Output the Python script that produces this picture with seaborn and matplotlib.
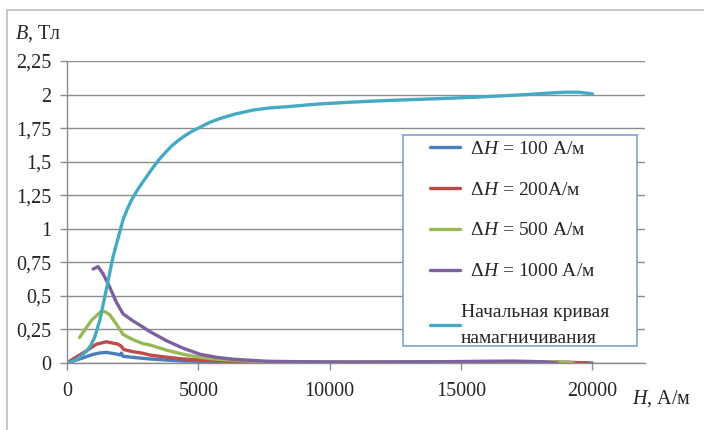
import numpy as np
import pandas as pd
import seaborn as sns
import matplotlib.pyplot as plt
from matplotlib.patches import Rectangle
from matplotlib.lines import Line2D

# data
h_init = [0, 250, 500, 750, 900, 1050, 1250, 1500, 1750, 2000, 2130, 2300, 2500, 2750,
          3000, 3250, 3500, 3750, 4000, 4250, 4500, 4750, 5000, 5400, 5800, 6400, 7100,
          7700, 8400, 9000, 9600, 10500, 11500, 12500, 13500, 14500, 15500, 16500, 17500,
          18500, 19000, 19500, 20000]
b_init = [0, 0.015, 0.045, 0.09, 0.13, 0.19, 0.32, 0.55, 0.79, 0.97, 1.066, 1.15, 1.23,
          1.31, 1.38, 1.45, 1.515, 1.57, 1.62, 1.66, 1.695, 1.725, 1.75, 1.79, 1.82, 1.855,
          1.885, 1.9, 1.91, 1.92, 1.93, 1.94, 1.95, 1.958, 1.965, 1.972, 1.98, 1.99, 2.0,
          2.013, 2.018, 2.017, 2.005]

h_100 = [0, 480, 990, 1250, 1500, 1816, 2030, 2070, 2133, 2600, 3160, 3800, 4420, 6000,
         8000, 10000, 15000, 17000, 19000, 20000]
b_100 = [0, 0.03, 0.064, 0.075, 0.079, 0.069, 0.06, 0.074, 0.05, 0.04, 0.03, 0.022, 0.015,
         0.008, 0.004, 0.003, 0.005, 0.006, 0.004, 0.0]

h_200 = [0, 230, 737, 1117, 1500, 1752, 1943, 2070, 2159, 2500, 2895, 3162, 3800, 4420,
         5500, 6500, 8000, 10000, 15000, 17000, 19000, 19850]
b_200 = [0, 0.03, 0.09, 0.14, 0.158, 0.148, 0.14, 0.124, 0.1, 0.085, 0.072, 0.059, 0.043,
         0.03, 0.018, 0.01, 0.006, 0.004, 0.006, 0.008, 0.006, 0.0]

h_500 = [480, 927, 1308, 1435, 1625, 1879, 2133, 2500, 2895, 3162, 3800, 4419, 5067, 5714,
         7000, 8000, 10000, 15000, 17000, 18500, 19280]
b_500 = [0.19, 0.317, 0.386, 0.383, 0.36, 0.29, 0.213, 0.175, 0.144, 0.134, 0.095, 0.065,
         0.042, 0.028, 0.014, 0.008, 0.006, 0.008, 0.01, 0.008, 0.0]

h_1000 = [990, 1100, 1181, 1371, 1625, 1879, 2133, 2500, 2895, 3162, 3800, 4419, 5067,
          5700, 6324, 7600, 9000, 11000, 14000, 16000, 17000, 18000, 18670]
b_1000 = [0.70, 0.71, 0.718, 0.665, 0.565, 0.453, 0.366, 0.315, 0.267, 0.233, 0.165, 0.11,
          0.065, 0.042, 0.028, 0.013, 0.009, 0.007, 0.009, 0.013, 0.014, 0.01, 0.0]

labels = ["  Δ$H$ = 100 А/м", "  Δ$H$ = 200А/м", "  Δ$H$ = 500 А/м", "  Δ$H$ = 1000 А/м",
          "Начальная кривая\nнамагничивания"]
colors = ["#4A7EBB", "#BE4B48", "#98B954", "#7D60A0", "#46AAC5"]
y_ticks = [0, 0.25, 0.5, 0.75, 1, 1.25, 1.5, 1.75, 2, 2.25]
x_ticks = [0, 5000, 10000, 15000, 20000]

series = [(h_100, b_100), (h_200, b_200), (h_500, b_500), (h_1000, b_1000), (h_init, b_init)]
frames = []
for (h, b), lab in zip(series, labels):
    frames.append(pd.DataFrame({"H": h, "B": b, "series": lab}))
df = pd.concat(frames, ignore_index=True)

sns.set_style("white")
plt.rcParams["font.family"] = "serif"
plt.rcParams["font.serif"] = ["Liberation Serif", "DejaVu Serif"]
plt.rcParams["mathtext.fontset"] = "custom"
plt.rcParams["mathtext.it"] = "Liberation Serif:italic"
plt.rcParams["mathtext.rm"] = "Liberation Serif"

fig = plt.figure(figsize=(7.04, 4.30), dpi=100)
ax = fig.add_axes([67 / 704, 1 - 363 / 430, (645 - 67) / 704, (363 - 61) / 430])

# outer chart border (top and left only visible)
fig.add_artist(Line2D([7 / 704, 7 / 704], [0, 1 - 10 / 430], color="#BFBFBF", lw=1.2,
                      transform=fig.transFigure))
fig.add_artist(Line2D([7 / 704, 1], [1 - 10 / 430, 1 - 10 / 430], color="#BFBFBF", lw=1.2,
                      transform=fig.transFigure))

sns.lineplot(data=df, x="H", y="B", hue="series", palette=colors, hue_order=labels,
             sort=False, estimator=None, lw=2.4, ax=ax, legend=False)

ax.set_xlim(0, 22000)
ax.set_ylim(0, 2.25)
ax.set_yticks(y_ticks)
ax.set_yticklabels([("%g" % v).replace(".", ",") for v in y_ticks])
ax.set_xticks(x_ticks)
ax.set_xticklabels([str(v) for v in x_ticks])
ax.grid(axis="y", color="#8C8C8C", lw=1)
ax.set_axisbelow(True)
for s in ["top", "right"]:
    ax.spines[s].set_visible(False)
for s in ["left", "bottom"]:
    ax.spines[s].set_color("#8C8C8C")
    ax.spines[s].set_linewidth(1)
ax.tick_params(axis="both", which="major", labelsize=14.5, length=5, width=1,
               color="#8C8C8C", direction="out", bottom=True, left=True)
ax.tick_params(axis="y", pad=6)
ax.tick_params(axis="x", pad=9)
ax.set_xlabel("")
ax.set_ylabel("")

fig.text(38 / 704, 1 - 34 / 430, "$B$, Тл", fontsize=14.5, ha="center", va="center")
fig.text(662 / 704, 1 - 399 / 430, "$H$, А/м", fontsize=14.5, ha="center", va="center")

# legend frame
fig.add_artist(Rectangle((403 / 704, 1 - 346 / 430), (637 - 403) / 704, (346 - 135) / 430,
                         transform=fig.transFigure, facecolor="white",
                         edgecolor="#7FA2D0", lw=1.2, zorder=5))
handles = [Line2D([], [], color=c, lw=2.4) for c in colors]
leg = fig.legend(handles, labels, loc="upper left", bbox_to_anchor=(430 / 704, 1 - 140 / 430),
                 frameon=False, fontsize=14, borderpad=0, borderaxespad=0,
                 handlelength=1.55, handletextpad=0.05, labelspacing=1.2)
for t in leg.get_texts():
    t.set_linespacing(1.7)
leg.set_zorder(6)

fig.savefig("out.png", dpi=100)
